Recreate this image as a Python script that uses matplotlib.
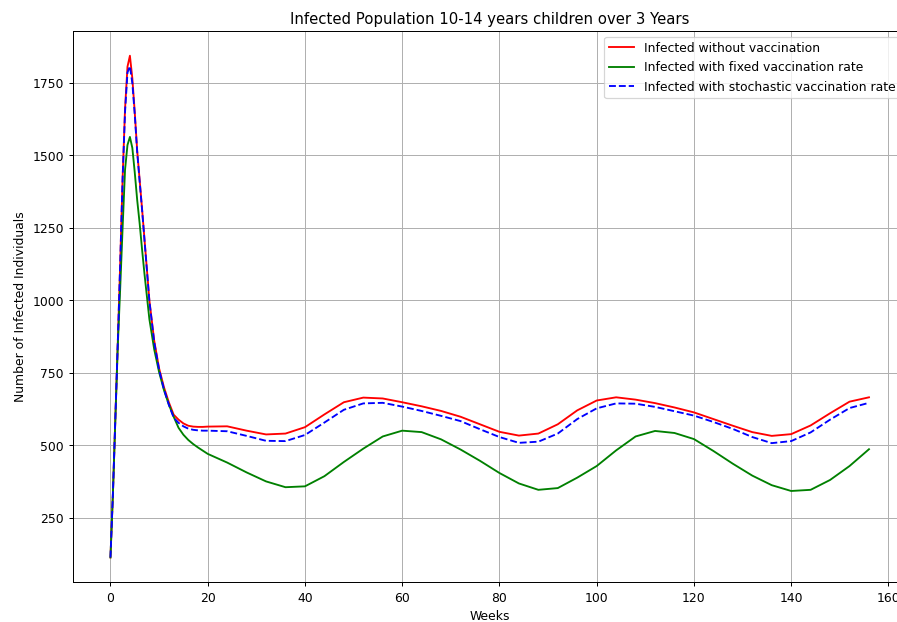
import matplotlib
matplotlib.use('Agg')
import matplotlib.pyplot as plt

weeks = [0, 0.5, 1, 1.5, 2, 2.5, 3, 3.5, 4, 4.5, 5, 5.5, 6, 6.5, 7, 8, 9, 10,
         11, 12, 13, 14, 15, 16, 17, 18, 19, 20, 24, 28, 32, 36, 40, 44, 48,
         52, 56, 60, 64, 68, 72, 76, 80, 84, 88, 92, 96, 100, 104, 108, 112,
         116, 120, 124, 128, 132, 136, 140, 144, 148, 152, 156]

no_vacc = [113, 330, 590, 850, 1125, 1420, 1660, 1805, 1843, 1765, 1647, 1515,
           1415, 1315, 1210, 1000, 860, 765, 700, 648, 605, 588, 575, 567, 564,
           563, 563, 564, 565, 550, 537, 540, 562, 606, 648, 664, 661, 648, 634,
           618, 598, 572, 546, 533, 540, 572, 620, 654, 665, 657, 645, 630, 613,
           590, 567, 545, 532, 538, 568, 610, 650, 665]

fixed_vacc = [113, 330, 585, 840, 1040, 1250, 1450, 1535, 1563, 1525, 1440,
              1345, 1265, 1175, 1090, 935, 830, 752, 690, 640, 598, 560, 536,
              518, 504, 492, 481, 470, 440, 406, 375, 355, 358, 393, 442, 488,
              530, 550, 545, 520, 485, 446, 404, 368, 346, 352, 388, 428, 482,
              530, 549, 542, 521, 480, 436, 395, 362, 342, 346, 380, 428, 486]

stoch_vacc = [113, 330, 590, 850, 1125, 1420, 1650, 1785, 1807, 1748, 1640,
              1510, 1410, 1312, 1207, 998, 855, 760, 693, 640, 595, 577, 565,
              557, 553, 551, 550, 550, 548, 532, 515, 514, 535, 578, 622, 644,
              646, 633, 618, 601, 583, 555, 528, 508, 512, 540, 590, 627, 644,
              643, 632, 617, 602, 580, 556, 528, 507, 514, 544, 588, 628, 646]

# the reference is a scaled-down render, so draw at a lower dpi
dpi = 89.4
fig = plt.figure(figsize=(897.4 / dpi, 622.4 / dpi), dpi=dpi)
# the original picture was cut off on the right, so the axes run past the edge
ax = fig.add_axes([72.5 / 897, 39.5 / 622, 834 / 897, 551.5 / 622])

ax.plot(weeks, no_vacc, color='red', label='Infected without vaccination')
ax.plot(weeks, fixed_vacc, color='green', label='Infected with fixed vaccination rate')
ax.plot(weeks, stoch_vacc, color='blue', linestyle='--',
        label='Infected with stochastic vaccination rate')

ax.set_title('Infected Population 10-14 years children over 3 Years')
ax.set_xlabel('Weeks')
ax.set_ylabel('Number of Infected Individuals')
ax.legend(loc='upper right')
ax.grid(True)

fig.savefig('out.png', dpi=dpi)
